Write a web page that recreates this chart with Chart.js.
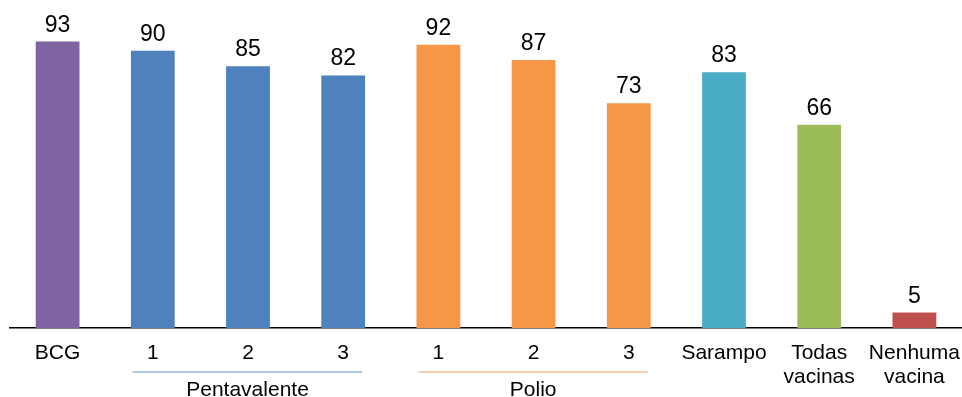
<!DOCTYPE html>
<html lang="pt">
  <head>
    <meta charset="UTF-8" />
    <title>Cobertura vacinal</title>
    <style>
      body {
        margin: 0;
        padding: 0;
        background: #fff;
      }
      .chart-container {
        width: 962px;
        height: 397px;
        position: relative;
      }
    </style>
  </head>
  <body>
    <div class="chart-container">
      <canvas id="vacChart"></canvas>
    </div>

    <script src="https://cdn.jsdelivr.net/npm/chart.js"></script>
    <script>
      const categories = [
        "BCG",
        "1",
        "2",
        "3",
        "1",
        "2",
        "3",
        "Sarampo",
        ["Todas", "vacinas"],
        ["Nenhuma", "vacina"],
      ];
      const values = [93, 90, 85, 82, 92, 87, 73, 83, 66, 5];
      const barColors = [
        "#8064a2",
        "#4f81bd",
        "#4f81bd",
        "#4f81bd",
        "#f79646",
        "#f79646",
        "#f79646",
        "#4bacc6",
        "#9bbb59",
        "#c0504d",
      ];
      // groups under the axis: label, first index, last index, line colour
      const groups = [
        { label: "Pentavalente", from: 1, to: 3, color: "#95b3d7" },
        { label: "Polio", from: 4, to: 6, color: "#fac090" },
      ];

      const fontFamily = "'Liberation Sans', Arial, sans-serif";

      const valueLabels = {
        id: "valueLabels",
        afterDatasetsDraw(chart) {
          const ctx = chart.ctx;
          const meta = chart.getDatasetMeta(0);
          ctx.save();
          ctx.fillStyle = "#000";
          ctx.font = "23px " + fontFamily;
          ctx.textAlign = "center";
          ctx.textBaseline = "alphabetic";
          meta.data.forEach((bar, i) => {
            ctx.fillText(values[i], bar.x, bar.y - 10);
          });
          ctx.restore();
        },
      };

      const groupLabels = {
        id: "groupLabels",
        afterDraw(chart) {
          const ctx = chart.ctx;
          const x = chart.scales.x;
          const step = x.getPixelForValue(1) - x.getPixelForValue(0);
          ctx.save();
          groups.forEach((g) => {
            const x1 = x.getPixelForValue(g.from) - step * 0.21;
            const x2 = x.getPixelForValue(g.to) + step * 0.2;
            ctx.strokeStyle = g.color;
            ctx.lineWidth = 1.5;
            ctx.beginPath();
            ctx.moveTo(x1, 372);
            ctx.lineTo(x2, 372);
            ctx.stroke();
            ctx.fillStyle = "#000";
            ctx.font = "21px " + fontFamily;
            ctx.textAlign = "center";
            ctx.textBaseline = "alphabetic";
            ctx.fillText(g.label, (x1 + x2) / 2, 396);
          });
          ctx.restore();
        },
      };

      new Chart(document.getElementById("vacChart"), {
        type: "bar",
        data: {
          labels: categories,
          datasets: [
            {
              data: values,
              backgroundColor: barColors,
              categoryPercentage: 1,
              barPercentage: 0.46,
            },
          ],
        },
        options: {
          responsive: true,
          maintainAspectRatio: false,
          animation: false,
          layout: {
            padding: { left: 10, right: 0, top: 20, bottom: 0 },
          },
          plugins: {
            legend: { display: false },
            tooltip: { enabled: false },
          },
          scales: {
            y: {
              display: false,
              min: 0,
              max: 100,
            },
            x: {
              grid: { display: false, drawTicks: false },
              border: { display: true, color: "#000", width: 1.5 },
              ticks: {
                color: "#000",
                font: { size: 21, family: fontFamily, lineHeight: 1.15 },
                padding: 13,
                maxRotation: 0,
                autoSkip: false,
              },
              afterFit(scale) {
                scale.height = 69;
                scale.paddingLeft = 0;
                scale.paddingRight = 0;
              },
            },
          },
        },
        plugins: [valueLabels, groupLabels],
      });
    </script>
  </body>
</html>
